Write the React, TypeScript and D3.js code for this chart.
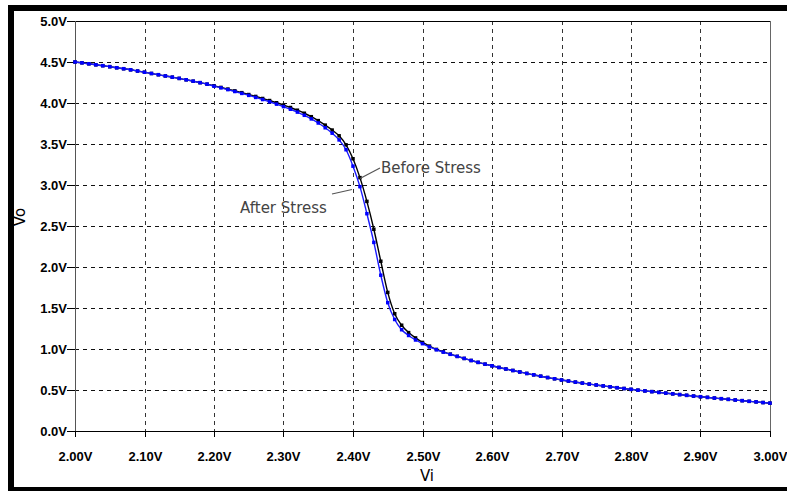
import * as d3 from "d3";
import React from "react";

// Inverter transfer curve, before / after stress
const xTicks = [2.0, 2.1, 2.2, 2.3, 2.4, 2.5, 2.6, 2.7, 2.8, 2.9, 3.0];
const yTicks = [0, 0.5, 1.0, 1.5, 2.0, 2.5, 3.0, 3.5, 4.0, 4.5, 5.0];

// Vi sampled every 10mV from 2.00V to 3.00V
const viValues = d3.range(0, 101).map((i) => 2 + i / 100);

const voBefore = [
  4.5, 4.49, 4.478, 4.466, 4.455, 4.443, 4.43, 4.418, 4.405, 4.39,
  4.375, 4.36, 4.345, 4.33, 4.315, 4.3, 4.283, 4.266, 4.248, 4.23,
  4.21, 4.19, 4.17, 4.148, 4.126, 4.103, 4.08, 4.055, 4.03, 4.003,
  3.975, 3.945, 3.912, 3.875, 3.833, 3.785, 3.73, 3.67, 3.6, 3.49,
  3.32, 3.09, 2.8, 2.46, 2.07, 1.69, 1.43, 1.29, 1.2, 1.135,
  1.08, 1.035, 0.995, 0.965, 0.937, 0.91, 0.885, 0.86, 0.837, 0.815,
  0.795, 0.775, 0.756, 0.738, 0.72, 0.702, 0.685, 0.668, 0.652, 0.637,
  0.622, 0.609, 0.596, 0.584, 0.572, 0.561, 0.55, 0.539, 0.528, 0.518,
  0.508, 0.498, 0.489, 0.48, 0.471, 0.462, 0.453, 0.444, 0.435, 0.426,
  0.418, 0.41, 0.402, 0.394, 0.386, 0.378, 0.37, 0.362, 0.355, 0.347,
  0.34,
];

const voAfter = [
  4.5, 4.49, 4.478, 4.466, 4.455, 4.443, 4.43, 4.418, 4.405, 4.39,
  4.375, 4.36, 4.345, 4.33, 4.315, 4.3, 4.283, 4.266, 4.248, 4.23,
  4.205, 4.185, 4.163, 4.14, 4.117, 4.093, 4.068, 4.042, 4.015, 3.986,
  3.956, 3.924, 3.889, 3.85, 3.806, 3.756, 3.698, 3.632, 3.55, 3.43,
  3.23, 2.98, 2.65, 2.3, 1.9, 1.565, 1.36, 1.235, 1.165, 1.11,
  1.065, 1.025, 0.99, 0.962, 0.935, 0.91, 0.885, 0.86, 0.837, 0.815,
  0.795, 0.775, 0.756, 0.738, 0.72, 0.702, 0.685, 0.668, 0.652, 0.637,
  0.622, 0.609, 0.596, 0.584, 0.572, 0.561, 0.55, 0.539, 0.528, 0.518,
  0.508, 0.498, 0.489, 0.48, 0.471, 0.462, 0.453, 0.444, 0.435, 0.426,
  0.418, 0.41, 0.402, 0.394, 0.386, 0.378, 0.37, 0.362, 0.355, 0.347,
  0.34,
];

const WIDTH = 787;
const HEIGHT = 491;
const margin = { left: 75, right: 17, top: 21, bottom: 60 };

const tickFont = "'Liberation Sans', Arial, sans-serif";
const labelFont = "'DejaVu Sans', Verdana, sans-serif";

function App() {
  const x = d3
    .scaleLinear()
    .domain([2, 3])
    .range([margin.left, WIDTH - margin.right]);
  const y = d3
    .scaleLinear()
    .domain([0, 5])
    .range([HEIGHT - margin.bottom, margin.top]);

  const line = d3
    .line<number>()
    .x((_, i) => x(viValues[i]))
    .y((d) => y(d))
    .curve(d3.curveMonotoneX);

  const x0 = x(2);
  const x1 = x(3);
  const y0 = y(0);
  const y1 = y(5);

  return (
    <div style={{ position: "absolute", left: 0, top: 0 }}>
      <svg width={WIDTH} height={HEIGHT} style={{ display: "block" }}>
        <rect width={WIDTH} height={HEIGHT} fill="#fff" />
        {/* black frame */}
        <rect x={8} y={5} width={WIDTH - 8} height={6} fill="#000" />
        <rect x={8} y={5} width={6} height={HEIGHT - 5} fill="#000" />
        <rect x={8} y={487} width={WIDTH - 8} height={4} fill="#000" />

        {/* grid */}
        {yTicks.slice(1, -1).map((t) => (
          <line
            key={"gy" + t}
            x1={x0}
            x2={x1}
            y1={Math.round(y(t)) + 0.5}
            y2={Math.round(y(t)) + 0.5}
            stroke="#111"
            strokeDasharray="4,4"
          />
        ))}
        {xTicks.slice(1, -1).map((t) => (
          <line
            key={"gx" + t}
            x1={Math.round(x(t)) + 0.5}
            x2={Math.round(x(t)) + 0.5}
            y1={y1}
            y2={y0}
            stroke="#333"
            strokeDasharray="4,4"
          />
        ))}

        {/* plot box */}
        <line x1={x0} x2={x1} y1={y1 + 0.5} y2={y1 + 0.5} stroke="#000" strokeWidth={1.2} />
        <line x1={x0} x2={x1 + 0.5} y1={y0 + 0.5} y2={y0 + 0.5} stroke="#000" strokeWidth={1.2} />
        <line x1={x0 + 0.5} x2={x0 + 0.5} y1={y1} y2={y0} stroke="#555" />
        <line x1={x1 + 0.5} x2={x1 + 0.5} y1={y1} y2={y0} stroke="#666" />

        {/* y ticks */}
        {yTicks.map((t) => (
          <g key={"ty" + t} transform={`translate(0,${Math.round(y(t)) + 0.5})`}>
            <line x1={x0 - 8} x2={x0} stroke="#000" />
            <text
              x={x0 - 8}
              dy="0.35em"
              textAnchor="end"
              fontFamily={tickFont}
              fontWeight="bold"
              fontSize={13}
              fill="#000"
            >
              {t.toFixed(1) + "V"}
            </text>
          </g>
        ))}

        {/* x ticks */}
        {xTicks.map((t) => (
          <g key={"tx" + t} transform={`translate(${Math.round(x(t)) + 0.5},0)`}>
            <line y1={y0} y2={y0 + 6} stroke="#000" />
            <text
              y={y0 + 30}
              textAnchor="middle"
              fontFamily={tickFont}
              fontWeight="bold"
              fontSize={13}
              fill="#000"
            >
              {t.toFixed(2) + "V"}
            </text>
          </g>
        ))}

        {/* axis titles */}
        <text
          x={427}
          y={481}
          textAnchor="middle"
          fontFamily={labelFont}
          fontSize={15}
          fill="#000"
        >
          Vi
        </text>
        <text
          transform="translate(25,217) rotate(-90)"
          textAnchor="middle"
          fontFamily={labelFont}
          fontSize={15}
          fill="#000"
        >
          Vo
        </text>

        {/* curves */}
        <path d={line(voBefore) || ""} fill="none" stroke="#000" strokeWidth={1.4} />
        {voBefore.map((v, i) => (
          <rect
            key={"db" + i}
            x={x(viValues[i]) - 1.75}
            y={y(v) - 1.75}
            width={3.5}
            height={3.5}
            fill="#000"
          />
        ))}
        <path d={line(voAfter) || ""} fill="none" stroke="#1a1aff" strokeWidth={1.4} />
        {voAfter.map((v, i) => (
          <rect
            key={"da" + i}
            x={x(viValues[i]) - 1.75}
            y={y(v) - 1.75}
            width={3.5}
            height={3.5}
            fill="#0000ff"
          />
        ))}

        {/* annotations */}
        <line x1={380} y1={168} x2={360} y2={178.5} stroke="#555" strokeWidth={1.2} />
        <text x={381} y={173} fontFamily={labelFont} fontSize={15} fill="#444">
          Before Stress
        </text>
        <line x1={332} y1={194} x2={352} y2={189.5} stroke="#555" strokeWidth={1.2} />
        <text x={240} y={213} fontFamily={labelFont} fontSize={15} fill="#444">
          After Stress
        </text>
      </svg>
    </div>
  );
}

export default App;
